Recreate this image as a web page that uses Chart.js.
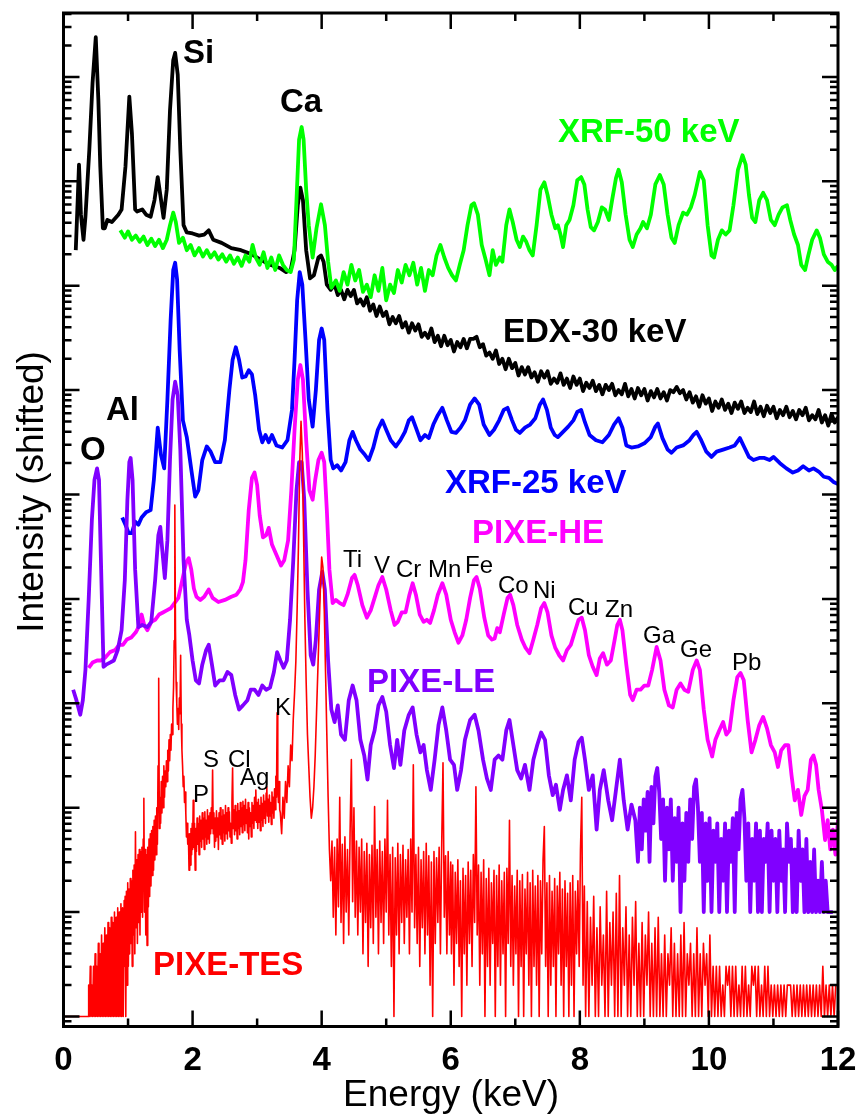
<!DOCTYPE html>
<html>
<head>
<meta charset="utf-8">
<title>Spectra comparison</title>
<script src="https://cdn.jsdelivr.net/npm/chart.js@4.4.1/dist/chart.umd.min.js"></script>
<style>
  html, body { margin: 0; padding: 0; background: #fff; }
  #wrap { width: 861px; height: 1117px; }
</style>
</head>
<body>
<div id="wrap"><canvas id="spectra" width="861" height="1117"></canvas></div>
<script>
// each point is [energy keV, log10 intensity (shifted)]
const edx30 = [
  [0.19,7.34],[0.22,7.82],[0.24,8.16],[0.27,7.68],[0.31,7.44],[0.34,7.66],[0.40,8.30],[0.45,8.94],[0.50,9.38],
  [0.54,8.78],[0.57,8.14],[0.61,7.55],[0.64,7.55],[0.68,7.63],[0.75,7.61],[0.85,7.68],[0.90,7.73],[0.96,8.14],
  [1.02,8.81],[1.06,8.46],[1.11,7.73],[1.14,7.71],[1.22,7.73],[1.28,7.68],[1.35,7.66],[1.41,7.82],[1.46,8.04],
  [1.50,7.87],[1.55,7.65],[1.60,7.92],[1.65,8.68],[1.70,9.16],[1.73,9.23],[1.77,9.02],[1.81,8.30],[1.86,7.58],
  [1.91,7.51],[2.00,7.50],[2.10,7.48],[2.18,7.49],[2.25,7.53],[2.32,7.44],[2.45,7.41],[2.60,7.36],[2.75,7.34],
  [2.92,7.30],[3.05,7.25],[3.20,7.20],[3.35,7.17],[3.45,7.13],[3.52,7.15],[3.58,7.34],[3.63,7.77],[3.67,7.94],
  [3.71,7.82],[3.76,7.34],[3.82,7.07],[3.88,7.10],[3.95,7.27],[3.99,7.29],[4.03,7.23],[4.08,7.01],[4.14,6.96],
  [4.20,7.01],[4.25,6.91],[4.30,6.96],[4.35,6.87],[4.40,6.96],[4.45,6.90],[4.50,6.96],[4.55,6.83],[4.60,6.87],
  [4.65,6.81],[4.70,6.89],[4.75,6.76],[4.80,6.82],[4.85,6.71],[4.90,6.80],[4.95,6.71],[5.00,6.75],[5.05,6.63],
  [5.10,6.70],[5.15,6.64],[5.20,6.71],[5.25,6.60],[5.30,6.65],[5.35,6.55],[5.40,6.64],[5.45,6.57],[5.50,6.63],
  [5.55,6.51],[5.60,6.55],[5.65,6.50],[5.70,6.59],[5.75,6.46],[5.80,6.52],[5.85,6.42],[5.90,6.52],[5.95,6.43],
  [6.00,6.48],[6.05,6.37],[6.10,6.46],[6.15,6.41],[6.20,6.49],[6.25,6.40],[6.30,6.49],[6.35,6.49],[6.40,6.51],
  [6.45,6.41],[6.50,6.44],[6.55,6.33],[6.60,6.36],[6.65,6.30],[6.70,6.38],[6.75,6.25],[6.80,6.30],[6.85,6.20],
  [6.90,6.30],[6.95,6.21],[7.00,6.26],[7.05,6.14],[7.10,6.22],[7.15,6.15],[7.20,6.22],[7.25,6.12],[7.30,6.17],
  [7.35,6.08],[7.40,6.18],[7.45,6.12],[7.50,6.18],[7.55,6.06],[7.60,6.11],[7.65,6.07],[7.70,6.16],[7.75,6.05],
  [7.80,6.11],[7.85,6.02],[7.90,6.13],[7.95,6.05],[8.00,6.11],[8.05,5.99],[8.10,6.07],[8.15,6.02],[8.20,6.09],
  [8.25,5.99],[8.30,6.05],[8.35,5.96],[8.40,6.05],[8.45,6.00],[8.50,6.06],[8.55,5.95],[8.60,6.00],[8.65,5.96],
  [8.70,6.06],[8.75,5.94],[8.80,6.01],[8.85,5.92],[8.90,6.02],[8.95,5.95],[9.00,6.01],[9.05,5.90],[9.10,5.99],
  [9.15,5.93],[9.20,6.01],[9.25,5.92],[9.30,5.98],[9.35,5.90],[9.40,6.00],[9.45,5.98],[9.50,6.03],[9.55,5.97],
  [9.60,6.00],[9.65,5.91],[9.70,5.98],[9.75,5.88],[9.80,5.94],[9.85,5.84],[9.90,5.95],[9.95,5.87],[10.00,5.92],
  [10.05,5.80],[10.10,5.89],[10.15,5.83],[10.20,5.91],[10.25,5.81],[10.30,5.87],[10.35,5.78],[10.40,5.88],
  [10.45,5.82],[10.50,5.89],[10.55,5.78],[10.60,5.83],[10.65,5.79],[10.70,5.89],[10.75,5.77],[10.80,5.84],
  [10.85,5.75],[10.90,5.85],[10.95,5.78],[11.00,5.84],[11.05,5.73],[11.10,5.81],[11.15,5.76],[11.20,5.84],
  [11.25,5.74],[11.30,5.80],[11.35,5.72],[11.40,5.81],[11.45,5.76],[11.50,5.83],[11.55,5.71],[11.60,5.76],
  [11.65,5.72],[11.70,5.81],[11.75,5.69],[11.80,5.76],[11.85,5.66],[11.90,5.77],[11.95,5.69],[12.00,5.74]
];

const xrf50 = [
  [0.88,7.53],[0.95,7.46],[1.00,7.52],[1.06,7.44],[1.12,7.48],[1.18,7.42],[1.24,7.47],[1.30,7.39],[1.36,7.45],
  [1.42,7.38],[1.48,7.44],[1.54,7.36],[1.60,7.44],[1.65,7.58],[1.70,7.70],[1.74,7.61],[1.79,7.41],[1.85,7.46],
  [1.91,7.34],[1.97,7.39],[2.03,7.29],[2.10,7.36],[2.16,7.28],[2.22,7.34],[2.28,7.27],[2.34,7.32],[2.40,7.25],
  [2.46,7.30],[2.52,7.23],[2.58,7.29],[2.64,7.21],[2.70,7.27],[2.76,7.19],[2.82,7.29],[2.88,7.23],[2.93,7.39],
  [2.98,7.27],[3.04,7.20],[3.10,7.32],[3.16,7.17],[3.22,7.27],[3.28,7.15],[3.34,7.29],[3.40,7.20],[3.46,7.15],
  [3.52,7.13],[3.57,7.25],[3.61,7.82],[3.65,8.40],[3.69,8.52],[3.72,8.40],[3.76,7.92],[3.80,7.58],[3.86,7.27],
  [3.92,7.55],[3.99,7.78],[4.05,7.58],[4.10,7.23],[4.15,6.98],[4.22,7.05],[4.28,6.95],[4.34,7.13],[4.40,7.01],
  [4.46,7.20],[4.52,7.05],[4.58,7.15],[4.64,6.94],[4.70,7.01],[4.76,6.89],[4.82,7.10],[4.88,6.95],[4.94,7.17],
  [5.00,6.86],[5.06,7.01],[5.12,6.93],[5.18,7.15],[5.24,7.03],[5.30,7.20],[5.36,7.10],[5.42,7.22],[5.48,7.01],
  [5.54,7.17],[5.60,6.95],[5.66,7.15],[5.72,7.10],[5.78,7.29],[5.84,7.39],[5.90,7.27],[5.96,7.17],[6.02,7.10],
  [6.08,7.05],[6.14,7.20],[6.20,7.34],[6.26,7.58],[6.32,7.77],[6.36,7.79],[6.42,7.68],[6.48,7.39],[6.54,7.25],
  [6.60,7.10],[6.65,7.34],[6.70,7.20],[6.76,7.27],[6.80,7.23],[6.86,7.58],[6.91,7.73],[6.96,7.61],[7.02,7.44],
  [7.07,7.37],[7.12,7.47],[7.17,7.42],[7.22,7.34],[7.27,7.29],[7.33,7.58],[7.39,7.92],[7.45,7.99],[7.50,7.87],
  [7.56,7.68],[7.62,7.55],[7.66,7.58],[7.70,7.49],[7.74,7.37],[7.79,7.58],[7.84,7.63],[7.90,7.77],[7.96,8.01],
  [8.02,8.04],[8.07,7.97],[8.12,7.73],[8.17,7.56],[8.22,7.53],[8.28,7.61],[8.34,7.75],[8.39,7.73],[8.45,7.63],
  [8.50,7.82],[8.56,8.03],[8.60,8.11],[8.65,7.99],[8.71,7.68],[8.77,7.44],[8.82,7.37],[8.88,7.49],[8.94,7.55],
  [8.98,7.61],[9.04,7.55],[9.10,7.68],[9.17,7.97],[9.24,8.06],[9.30,7.97],[9.36,7.68],[9.42,7.46],[9.47,7.41],
  [9.53,7.58],[9.60,7.70],[9.66,7.68],[9.72,7.75],[9.78,7.87],[9.86,8.09],[9.92,8.01],[9.98,7.58],[10.04,7.29],
  [10.08,7.27],[10.14,7.44],[10.20,7.53],[10.26,7.49],[10.32,7.53],[10.38,7.77],[10.45,8.11],[10.52,8.25],
  [10.57,8.16],[10.62,7.87],[10.67,7.65],[10.72,7.61],[10.78,7.82],[10.84,7.89],[10.90,7.82],[10.96,7.63],
  [11.02,7.58],[11.08,7.68],[11.14,7.75],[11.21,7.77],[11.26,7.63],[11.32,7.49],[11.38,7.39],[11.43,7.20],
  [11.49,7.15],[11.54,7.29],[11.60,7.44],[11.67,7.53],[11.72,7.46],[11.78,7.30],[11.84,7.23],[11.90,7.20],
  [11.95,7.15],[12.00,7.19]
];

const xrf25 = [
  [0.91,4.78],[0.96,4.71],[1.01,4.63],[1.06,4.63],[1.11,4.74],[1.16,4.71],[1.21,4.78],[1.28,4.83],[1.35,4.85],
  [1.40,5.14],[1.46,5.64],[1.51,5.38],[1.56,5.25],[1.61,5.91],[1.66,6.67],[1.70,7.15],[1.73,7.22],[1.76,7.06],
  [1.80,6.38],[1.85,5.71],[1.91,5.55],[1.98,5.24],[2.04,4.98],[2.09,5.04],[2.15,5.33],[2.22,5.46],[2.28,5.41],
  [2.35,5.31],[2.43,5.31],[2.50,5.52],[2.57,6.00],[2.62,6.29],[2.67,6.41],[2.72,6.29],[2.77,6.12],[2.82,6.13],
  [2.87,6.19],[2.92,6.15],[2.97,5.95],[3.03,5.62],[3.08,5.50],[3.13,5.57],[3.18,5.50],[3.23,5.57],[3.30,5.47],
  [3.39,5.45],[3.47,5.52],[3.54,5.81],[3.58,6.29],[3.62,6.86],[3.66,7.13],[3.70,7.01],[3.75,6.48],[3.80,5.91],
  [3.86,5.65],[3.91,6.00],[3.96,6.48],[4.00,6.59],[4.04,6.48],[4.09,5.81],[4.14,5.33],[4.18,5.25],[4.24,5.28],
  [4.30,5.23],[4.37,5.31],[4.43,5.52],[4.48,5.60],[4.53,5.52],[4.60,5.43],[4.67,5.38],[4.73,5.33],[4.80,5.45],
  [4.87,5.62],[4.94,5.71],[5.00,5.62],[5.07,5.52],[5.15,5.46],[5.22,5.52],[5.29,5.60],[5.35,5.71],[5.40,5.74],
  [5.46,5.64],[5.53,5.52],[5.60,5.57],[5.66,5.54],[5.73,5.67],[5.80,5.76],[5.87,5.83],[5.94,5.71],[6.01,5.60],
  [6.08,5.59],[6.15,5.64],[6.22,5.71],[6.30,5.86],[6.37,5.92],[6.44,5.86],[6.51,5.67],[6.60,5.57],[6.67,5.62],
  [6.75,5.71],[6.82,5.81],[6.88,5.83],[6.95,5.71],[7.01,5.62],[7.07,5.59],[7.15,5.64],[7.23,5.67],[7.31,5.73],
  [7.38,5.86],[7.43,5.91],[7.49,5.81],[7.55,5.64],[7.61,5.57],[7.66,5.55],[7.74,5.60],[7.82,5.65],[7.90,5.71],
  [7.96,5.79],[8.02,5.81],[8.08,5.69],[8.15,5.57],[8.25,5.52],[8.35,5.50],[8.45,5.57],[8.53,5.67],[8.60,5.73],
  [8.66,5.64],[8.72,5.47],[8.80,5.45],[8.90,5.46],[9.00,5.49],[9.10,5.55],[9.17,5.65],[9.21,5.68],[9.28,5.54],
  [9.36,5.43],[9.42,5.40],[9.50,5.45],[9.60,5.47],[9.70,5.52],[9.76,5.57],[9.81,5.60],[9.88,5.52],[9.96,5.41],
  [10.04,5.36],[10.12,5.41],[10.22,5.43],[10.32,5.45],[10.40,5.47],[10.48,5.54],[10.55,5.45],[10.62,5.36],
  [10.69,5.33],[10.78,5.35],[10.86,5.35],[10.94,5.33],[11.00,5.36],[11.10,5.30],[11.20,5.25],[11.30,5.21],
  [11.38,5.23],[11.46,5.27],[11.55,5.23],[11.62,5.25],[11.70,5.22],[11.78,5.17],[11.86,5.16],[11.93,5.12],
  [12.00,5.10]
];

const pixeHE = [
  [0.39,3.34],[0.45,3.39],[0.52,3.41],[0.58,3.41],[0.65,3.44],[0.72,3.49],[0.80,3.51],[0.86,3.56],[0.92,3.56],
  [0.98,3.61],[1.05,3.63],[1.12,3.68],[1.18,3.75],[1.21,3.85],[1.25,3.75],[1.30,3.70],[1.36,3.78],[1.42,3.80],
  [1.48,3.85],[1.54,3.87],[1.60,3.89],[1.66,3.91],[1.72,3.96],[1.78,4.01],[1.84,4.18],[1.90,4.35],[1.94,4.39],
  [1.98,4.28],[2.02,4.10],[2.06,4.02],[2.12,3.99],[2.18,4.02],[2.25,4.09],[2.31,4.01],[2.40,3.97],[2.50,3.99],
  [2.60,4.02],[2.68,4.04],[2.74,4.09],[2.78,4.16],[2.82,4.37],[2.87,4.85],[2.92,5.16],[2.96,5.21],[3.00,5.09],
  [3.04,4.80],[3.09,4.59],[3.14,4.61],[3.18,4.68],[3.23,4.52],[3.30,4.42],[3.37,4.32],[3.42,4.37],[3.48,4.56],
  [3.53,5.04],[3.58,5.62],[3.63,6.10],[3.67,6.24],[3.71,6.10],[3.76,5.52],[3.81,5.04],[3.86,4.95],[3.90,5.14],
  [3.95,5.33],[4.00,5.40],[4.04,5.31],[4.08,4.85],[4.12,4.28],[4.17,3.96],[4.22,3.99],[4.28,3.96],[4.34,3.94],
  [4.40,4.04],[4.47,4.20],[4.51,4.23],[4.56,4.13],[4.63,3.94],[4.70,3.82],[4.76,3.89],[4.82,4.01],[4.88,4.13],
  [4.94,4.21],[5.00,4.09],[5.07,3.89],[5.13,3.75],[5.18,3.78],[5.24,3.87],[5.30,3.87],[5.36,4.04],[5.41,4.15],
  [5.46,4.04],[5.52,3.85],[5.58,3.78],[5.63,3.80],[5.68,3.77],[5.74,3.89],[5.80,4.04],[5.87,4.15],[5.93,4.04],
  [6.00,3.80],[6.06,3.68],[6.12,3.58],[6.18,3.65],[6.24,3.80],[6.30,4.01],[6.36,4.18],[6.40,4.21],[6.45,4.10],
  [6.52,3.82],[6.58,3.65],[6.64,3.61],[6.68,3.62],[6.72,3.72],[6.76,3.68],[6.82,3.85],[6.88,4.01],[6.92,4.04],
  [6.97,3.94],[7.03,3.75],[7.10,3.61],[7.16,3.53],[7.22,3.48],[7.28,3.61],[7.34,3.75],[7.40,3.91],[7.45,3.96],
  [7.50,3.87],[7.56,3.65],[7.62,3.53],[7.68,3.46],[7.74,3.41],[7.80,3.51],[7.86,3.56],[7.92,3.68],[7.98,3.80],
  [8.03,3.82],[8.08,3.70],[8.14,3.46],[8.20,3.35],[8.26,3.27],[8.31,3.43],[8.36,3.48],[8.42,3.37],[8.48,3.41],
  [8.54,3.61],[8.58,3.75],[8.62,3.80],[8.66,3.70],[8.72,3.37],[8.78,3.08],[8.82,3.03],[8.88,3.13],[8.94,3.13],
  [9.00,3.17],[9.06,3.17],[9.12,3.32],[9.19,3.54],[9.25,3.41],[9.31,3.13],[9.38,2.98],[9.44,2.96],[9.50,3.13],
  [9.56,3.19],[9.62,3.13],[9.68,3.11],[9.75,3.32],[9.81,3.41],[9.86,3.32],[9.92,2.94],[9.98,2.65],[10.05,2.49],
  [10.10,2.65],[10.16,2.74],[10.22,2.82],[10.27,2.70],[10.32,2.74],[10.38,3.03],[10.44,3.25],[10.49,3.29],
  [10.54,3.22],[10.60,2.84],[10.66,2.53],[10.72,2.65],[10.78,2.79],[10.84,2.87],[10.90,2.76],[10.96,2.60],
  [11.02,2.53],[11.07,2.39],[11.12,2.55],[11.18,2.60],[11.23,2.60],[11.28,2.31],[11.33,2.07],[11.38,2.17],
  [11.43,1.93],[11.48,2.11],[11.53,2.17],[11.58,2.46],[11.62,2.50],[11.66,2.41],[11.70,2.17],[11.75,1.98],
  [11.80,1.69],[11.84,1.88],[11.88,1.60],[11.92,1.79],[11.96,1.55],[12.00,1.88]
];

const pixeLE = [
  [0.15,3.13],[0.20,3.03],[0.26,2.89],[0.30,3.03],[0.34,3.32],[0.39,3.99],[0.44,4.76],[0.48,5.14],[0.52,5.25],
  [0.55,5.14],[0.58,4.37],[0.62,3.35],[0.66,3.37],[0.72,3.39],[0.78,3.41],[0.84,3.51],[0.90,3.70],[0.95,4.18],
  [0.99,4.95],[1.02,5.31],[1.04,5.35],[1.07,5.14],[1.11,4.28],[1.16,3.73],[1.22,3.75],[1.30,3.73],[1.36,3.78],
  [1.42,4.18],[1.47,4.61],[1.50,4.69],[1.53,4.47],[1.57,4.20],[1.61,4.56],[1.65,5.33],[1.69,5.91],[1.73,6.08],
  [1.77,5.95],[1.81,5.43],[1.86,4.37],[1.91,3.80],[1.95,3.65],[2.00,3.41],[2.05,3.22],[2.10,3.19],[2.15,3.37],
  [2.21,3.51],[2.25,3.56],[2.30,3.37],[2.35,3.17],[2.42,3.22],[2.48,3.22],[2.54,3.30],[2.60,3.27],[2.66,3.08],
  [2.72,2.94],[2.78,2.98],[2.85,3.03],[2.90,3.13],[2.96,3.13],[3.02,3.08],[3.08,3.17],[3.14,3.13],[3.20,3.15],
  [3.26,3.30],[3.31,3.49],[3.36,3.41],[3.41,3.34],[3.46,3.41],[3.51,3.80],[3.56,4.37],[3.61,5.04],[3.65,5.31],
  [3.69,5.31],[3.73,4.95],[3.78,4.09],[3.83,3.46],[3.87,3.37],[3.91,3.61],[3.96,4.09],[4.01,4.26],[4.05,4.09],
  [4.10,3.41],[4.15,2.94],[4.20,2.82],[4.25,2.98],[4.30,2.70],[4.36,2.65],[4.42,3.03],[4.48,3.17],[4.54,3.03],
  [4.60,2.65],[4.66,2.50],[4.71,2.27],[4.76,2.60],[4.82,2.74],[4.88,2.98],[4.94,3.06],[5.00,2.92],[5.06,2.60],
  [5.12,2.38],[5.17,2.65],[5.22,2.41],[5.28,2.74],[5.35,2.89],[5.41,2.96],[5.47,2.70],[5.53,2.53],[5.58,2.60],
  [5.63,2.36],[5.69,2.17],[5.75,2.46],[5.81,2.79],[5.87,2.96],[5.93,2.74],[5.99,2.46],[6.05,2.41],[6.10,2.17],
  [6.16,2.36],[6.22,2.65],[6.30,2.84],[6.37,2.89],[6.43,2.74],[6.50,2.46],[6.56,2.28],[6.62,2.17],[6.68,2.46],
  [6.74,2.50],[6.80,2.46],[6.86,2.74],[6.91,2.84],[6.97,2.60],[7.03,2.36],[7.09,2.28],[7.15,2.41],[7.22,2.17],
  [7.28,2.46],[7.34,2.60],[7.40,2.72],[7.46,2.65],[7.52,2.31],[7.58,2.12],[7.63,2.22],[7.69,1.98],[7.74,2.17],
  [7.80,2.31],[7.86,2.07],[7.92,2.46],[7.98,2.63],[8.03,2.67],[8.08,2.46],[8.14,2.17],[8.20,2.31],[8.26,1.79],
  [8.31,2.17],[8.37,2.36],[8.44,2.07],[8.50,1.88],[8.56,2.17],[8.62,2.46],[8.68,2.07],[8.74,1.79],[8.80,2.03],
  [8.86,1.88],[8.90,1.48],[8.93,2.00],[8.96,1.60],[8.99,2.08],[9.02,1.78],[9.05,2.15],[9.08,1.48],[9.11,2.20],
  [9.14,1.85],[9.17,2.30],[9.20,2.38],[9.23,2.15],[9.26,1.70],[9.29,2.08],[9.32,1.30],[9.35,2.00],[9.38,1.60],
  [9.41,2.08],[9.44,1.30],[9.47,1.90],[9.50,1.48],[9.53,2.00],[9.56,1.00],[9.59,1.85],[9.62,1.30],[9.65,1.95],
  [9.68,1.48],[9.71,2.08],[9.74,1.70],[9.77,2.20],[9.80,2.27],[9.83,2.00],[9.86,1.48],[9.89,1.95],[9.92,1.00],
  [9.95,1.85],[9.98,1.30],[10.01,1.90],[10.04,1.00],[10.07,1.78],[10.10,1.48],[10.13,1.85],[10.16,1.00],
  [10.19,1.70],[10.22,1.30],[10.25,1.85],[10.28,1.00],[10.31,1.78],[10.34,1.48],[10.37,1.90],[10.40,1.00],
  [10.43,1.95],[10.46,1.60],[10.49,2.08],[10.52,2.17],[10.55,1.90],[10.58,1.30],[10.61,1.85],[10.64,1.00],
  [10.67,1.70],[10.70,1.30],[10.73,1.85],[10.76,1.00],[10.79,1.78],[10.82,1.00],[10.85,1.70],[10.88,1.48],
  [10.91,1.85],[10.94,1.00],[10.97,1.78],[11.00,1.30],[11.03,1.70],[11.06,1.00],[11.09,1.78],[11.12,1.30],
  [11.15,1.60],[11.18,1.00],[11.21,1.85],[11.24,1.48],[11.27,1.70],[11.30,1.00],[11.33,1.60],[11.36,1.00],
  [11.39,1.78],[11.42,1.30],[11.45,1.60],[11.48,1.00],[11.51,1.70],[11.54,1.00],[11.57,1.48],[11.60,1.00],
  [11.63,1.60],[11.66,1.00],[11.69,1.30],[11.72,1.00],[11.75,1.48],[11.78,1.00],[11.81,1.30],[11.84,1.00],
  [11.87,1.00],[11.92,1.00]
];

const pixeTES = [
  [0.00,0],[0.38,0],
  [0.39,0.30],[0.40,0],[0.415,0.48],[0.425,0],[0.44,0.30],[0.45,0],[0.465,0.48],[0.475,0],[0.49,0.60],[0.50,0],
  [0.515,0.48],[0.525,0],[0.54,0.70],[0.55,0],[0.565,0.60],[0.575,0],[0.59,0.78],[0.60,0],[0.615,0.70],[0.625,0],
  [0.64,0.85],[0.65,0],[0.665,0.78],[0.675,0],[0.69,0.90],[0.70,0],[0.715,0.85],[0.725,0],[0.74,0.95],[0.75,0],
  [0.765,0.90],[0.775,0],[0.79,1.00],[0.80,0],[0.815,0.95],[0.825,0],[0.84,1.04],[0.85,0],[0.865,1.00],[0.875,0],
  [0.89,1.08],[0.90,0],[0.915,1.04],[0.925,0],[0.94,1.11],[0.95,0.48],
  [0.955,1.15],[0.965,0.00],[0.975,1.20],[0.985,0.30],[0.995,1.28],[1.005,0.48],[1.015,1.22],[1.025,0.60],
  [1.035,1.32],[1.045,0.70],[1.055,1.30],[1.065,0.48],[1.075,1.40],[1.085,0.78],[1.095,1.45],[1.105,0.60],
  [1.115,1.77],[1.125,0.85],[1.135,1.50],[1.145,0.70],[1.155,1.55],[1.165,0.90],[1.175,1.60],[1.185,0.78],
  [1.195,1.58],[1.205,1.00],[1.215,1.62],[1.225,0.95],[1.235,1.70],[1.245,2.09],[1.255,1.00],[1.265,1.60],
  [1.275,0.78],[1.285,1.55],[1.295,0.68],[1.305,1.62],[1.315,1.05],[1.325,1.70],[1.335,1.15],[1.345,1.75],
  [1.355,1.25],[1.365,1.78],[1.375,1.35],[1.385,1.82],[1.395,1.40],[1.405,1.88],[1.415,1.50],[1.425,1.92],
  [1.435,1.55],[1.445,2.00],[1.455,1.65],[1.465,2.40],[1.475,3.24],[1.485,1.80],[1.495,2.10],[1.505,1.85],
  [1.515,2.25],[1.525,1.95],[1.535,2.30],[1.545,2.00],[1.555,2.40],[1.565,2.10],[1.575,2.35],[1.585,2.20],
  [1.595,2.45],[1.605,2.25],[1.615,2.55],[1.625,2.35],[1.635,2.65],[1.645,2.45],[1.655,2.70],[1.665,2.55],
  [1.675,2.80],[1.685,2.70],[1.695,2.95],[1.705,3.15],[1.715,3.60],[1.725,4.90],[1.735,3.70],[1.745,3.20],
  [1.755,3.00],[1.765,2.80],[1.775,2.95],[1.785,2.75],[1.795,3.05],[1.805,2.90],[1.815,3.46],[1.825,2.80],
  [1.835,2.55],[1.845,2.40],[1.855,2.20],[1.865,2.30],[1.875,2.05],[1.885,2.15],[1.895,1.95],[1.905,1.72],
  [1.915,1.85],[1.925,1.65],[1.935,1.75],[1.945,1.40],[1.955,1.75],[1.965,1.45],[1.975,1.80],[1.985,1.55],
  [1.995,1.85],
  [2.00,1.60],[2.01,2.07],[2.02,1.62],[2.03,1.85],[2.04,1.40],[2.05,1.80],[2.06,1.58],[2.07,1.90],[2.08,1.65],
  [2.09,1.85],[2.10,1.55],[2.11,1.92],[2.12,1.68],[2.13,1.88],[2.14,1.62],[2.15,1.95],[2.16,1.70],[2.17,1.90],
  [2.18,1.60],[2.19,1.96],[2.20,1.72],[2.21,1.88],[2.22,1.65],[2.23,1.98],[2.24,1.70],[2.25,1.92],[2.26,1.66],
  [2.27,1.95],[2.28,1.75],[2.29,2.00],[2.30,1.80],[2.31,2.36],[2.32,1.75],[2.33,1.95],[2.34,1.62],[2.35,1.90],
  [2.36,1.68],[2.37,1.97],[2.38,1.72],[2.39,1.90],[2.40,1.60],[2.41,1.95],[2.42,1.74],[2.43,2.00],[2.44,1.70],
  [2.45,1.92],[2.46,1.65],[2.47,1.98],[2.48,1.76],[2.49,1.93],[2.50,1.68],[2.51,2.02],[2.52,1.75],[2.53,1.95],
  [2.54,1.70],[2.55,2.00],[2.56,1.78],[2.57,1.96],[2.58,1.72],[2.59,1.85],[2.60,1.66],[2.61,2.05],[2.62,2.38],
  [2.63,1.80],[2.64,1.98],[2.65,1.74],[2.66,2.02],[2.67,1.78],[2.68,1.96],[2.69,1.70],[2.70,2.04],[2.71,1.80],
  [2.72,1.97],[2.73,1.74],[2.74,2.05],[2.75,1.82],[2.76,2.00],[2.77,1.76],[2.78,2.06],[2.79,1.84],[2.80,2.02],
  [2.81,1.78],[2.82,2.08],[2.83,1.85],[2.84,1.98],[2.85,1.76],[2.86,2.05],[2.87,1.70],[2.88,2.00],[2.89,1.82],
  [2.90,1.95],[2.91,1.72],[2.92,2.05],[2.93,1.85],[2.94,2.02],[2.95,1.80],[2.96,2.10],[2.97,1.88],[2.98,2.17],
  [2.99,1.86],[3.00,2.05],[3.01,1.80],[3.02,2.08],[3.03,1.86],[3.04,2.02],[3.05,1.78],[3.06,2.10],[3.07,1.88],
  [3.08,2.04],[3.09,1.82],[3.10,2.12],[3.11,1.90],[3.12,2.06],[3.13,1.85],[3.14,2.14],[3.15,2.20],[3.16,1.92],
  [3.17,2.08],[3.18,1.86],[3.19,2.12],[3.20,1.92],[3.21,2.05],[3.22,1.84],[3.23,2.15],[3.24,1.95],[3.25,2.10],
  [3.26,1.90],[3.27,2.18],[3.28,1.98],[3.29,2.30],[3.30,2.10],[3.31,2.91],[3.32,2.20],[3.33,2.05],[3.34,2.25],
  [3.35,1.98],
  [3.36,1.95],[3.38,1.75],[3.40,2.10],[3.42,1.90],[3.44,2.25],[3.46,2.05],[3.48,2.40],[3.50,2.20],[3.52,2.60],
  [3.54,2.45],[3.56,2.85],[3.58,3.10],[3.60,3.40],[3.62,3.90],[3.64,4.50],[3.66,5.30],[3.68,5.70],[3.70,5.40],
  [3.72,4.60],[3.74,3.80],[3.76,3.20],[3.78,2.70],[3.80,2.40],[3.82,2.10],[3.84,1.90],[3.86,2.00],[3.88,2.20],
  [3.90,2.50],[3.92,2.90],[3.94,3.30],[3.96,3.70],[3.98,4.10],[4.00,4.40],[4.02,4.30],[4.04,3.90],[4.06,3.30],
  [4.08,2.70],[4.10,2.10],[4.12,1.60],
  [4.14,1.30],[4.16,1.68],[4.18,0.95],[4.20,1.62],[4.22,0.78],[4.24,1.70],[4.26,1.05],[4.28,2.10],[4.30,0.90],
  [4.32,1.65],[4.34,0.70],[4.36,1.72],[4.38,1.00],[4.40,1.60],[4.42,0.78],[4.44,1.75],[4.46,2.46],[4.48,1.10],
  [4.50,2.00],[4.52,0.95],[4.54,1.68],[4.56,0.78],[4.58,1.62],[4.60,1.00],[4.62,1.70],[4.64,0.60],[4.66,1.58],
  [4.68,0.90],[4.70,1.66],[4.72,0.48],[4.74,1.55],[4.76,0.85],[4.78,1.64],[4.80,0.70],[4.82,2.01],[4.84,0.95],
  [4.86,1.60],[4.88,0.60],[4.90,1.68],[4.92,0.90],[4.94,1.58],[4.96,0.70],[4.98,1.70],[5.00,1.00],[5.02,2.07],
  [5.04,0.78],[5.06,1.55],[5.08,0.48],[5.10,1.62],[5.12,0.00],[5.14,1.52],[5.16,0.78],[5.18,1.66],[5.20,0.60],
  [5.22,1.55],[5.24,0.90],[5.26,1.64],[5.28,0.70],[5.30,1.50],[5.32,0.95],[5.34,1.60],[5.36,0.60],[5.38,1.70],
  [5.40,1.00],[5.42,2.41],[5.44,0.85],[5.46,1.55],[5.48,0.70],[5.50,1.62],[5.52,0.48],[5.54,1.50],[5.56,0.85],
  [5.58,1.58],[5.60,0.60],[5.62,1.66],[5.64,0.78],[5.66,1.54],[5.68,0.30],[5.70,1.48],[5.72,0.00],[5.74,1.58],
  [5.76,0.70],[5.78,1.52],[5.80,0.90],[5.82,1.62],[5.84,0.60],[5.86,1.66],[5.88,2.43],[5.90,0.95],[5.92,1.54],
  [5.94,0.60],[5.96,1.58],[5.98,0.78],[6.00,1.48],
  [6.01,0.60],[6.03,1.45],[6.05,0.30],[6.07,1.38],[6.09,0.70],[6.11,1.50],[6.13,0.48],[6.15,1.30],[6.17,0.00],
  [6.19,1.42],[6.21,0.60],[6.23,1.35],[6.25,0.30],[6.27,1.48],[6.29,0.70],[6.31,1.40],[6.33,0.48],[6.35,1.55],
  [6.37,0.90],[6.39,2.20],[6.41,0.78],[6.43,1.45],[6.45,0.30],[6.47,1.38],[6.49,0.60],[6.51,1.50],[6.53,0.00],
  [6.55,1.32],[6.57,0.48],[6.59,1.42],[6.61,0.30],[6.63,1.28],[6.65,0.70],[6.67,1.40],[6.69,0.00],[6.71,1.35],
  [6.73,0.48],[6.75,1.45],[6.77,0.30],[6.79,1.30],[6.81,0.60],[6.83,1.38],[6.85,0.00],[6.87,1.42],[6.89,0.70],
  [6.91,1.88],[6.93,0.48],[6.95,1.35],[6.97,0.30],[6.99,1.25],[7.01,0.60],[7.03,1.40],[7.05,0.00],[7.07,1.30],
  [7.09,0.48],[7.11,1.36],[7.13,0.00],[7.15,1.22],[7.17,0.60],[7.19,1.38],[7.21,0.30],[7.23,1.28],[7.25,0.00],
  [7.27,1.40],[7.29,0.48],[7.31,1.25],[7.33,0.30],[7.35,1.35],[7.37,0.00],[7.39,1.30],[7.41,0.60],[7.43,1.50],
  [7.45,1.82],[7.47,0.48],[7.49,1.28],[7.51,0.00],[7.53,1.35],[7.55,0.30],[7.57,1.20],[7.59,0.48],[7.61,1.32],
  [7.63,0.00],[7.65,1.25],[7.67,0.60],[7.69,1.38],[7.71,0.30],[7.73,1.22],[7.75,0.00],[7.77,1.30],[7.79,0.48],
  [7.81,1.18],[7.83,0.00],[7.85,1.28],[7.87,0.30],[7.89,1.35],[7.91,0.00],[7.93,1.20],[7.95,0.60],[7.97,1.30],
  [7.99,0.48],[8.01,1.60],[8.03,2.10],[8.05,0.30],[8.07,1.25],[8.09,0.00],
  [8.115,1.10],[8.14,0.00],[8.165,0.95],[8.19,0.30],[8.215,1.15],[8.24,0.00],[8.265,0.85],[8.29,0.00],
  [8.315,1.05],[8.34,0.30],[8.365,0.78],[8.39,0.00],[8.415,1.20],[8.44,0.00],[8.465,0.90],[8.49,0.30],
  [8.515,1.00],[8.54,0.00],[8.565,1.18],[8.59,0.00],[8.615,1.35],[8.64,0.00],[8.665,0.85],[8.69,0.30],
  [8.715,1.05],[8.74,0.00],[8.765,0.78],[8.79,0.00],[8.815,0.95],[8.84,0.30],[8.865,1.10],[8.89,0.00],
  [8.915,0.70],[8.94,0.00],[8.965,0.90],[8.99,0.00],[9.015,0.78],[9.04,0.30],[9.065,1.00],[9.09,0.00],
  [9.115,0.70],[9.14,0.00],[9.165,0.85],[9.19,0.00],
  [9.215,0.95],[9.24,0.00],[9.265,0.60],[9.29,0.00],[9.315,0.78],[9.34,0.00],[9.365,0.60],[9.39,0.30],
  [9.415,0.85],[9.44,0.00],[9.465,0.70],[9.49,0.00],[9.515,0.60],[9.54,0.00],[9.565,0.78],[9.59,0.00],
  [9.615,0.90],[9.64,0.00],[9.665,0.60],[9.69,0.30],[9.715,0.70],[9.74,0.00],[9.765,0.60],[9.79,0.00],
  [9.815,0.85],[9.84,0.00],[9.865,0.60],[9.89,0.00],[9.915,0.70],[9.94,0.30],[9.965,0.60],[9.99,0.00],
  [10.015,0.78],[10.04,0.00],
  [10.065,0.48],[10.09,0.00],[10.115,0.48],[10.14,0.00],[10.165,0.48],[10.19,0.00],[10.215,0.30],[10.24,0.00],
  [10.265,0.48],[10.29,0.30],[10.315,0.48],[10.34,0.00],[10.365,0.48],[10.39,0.00],[10.415,0.48],[10.44,0.00],
  [10.465,0.30],[10.49,0.00],[10.515,0.48],[10.54,0.00],[10.565,0.48],[10.59,0.00],[10.615,0.30],[10.64,0.00],
  [10.665,0.48],[10.69,0.30],[10.715,0.48],[10.74,0.00],[10.765,0.48],[10.79,0.00],[10.815,0.30],[10.84,0.00],
  [10.865,0.48],[10.89,0.00],[10.915,0.48],[10.94,0.00],[10.965,0.30],[10.99,0.00],
  [11.015,0.30],[11.04,0.00],[11.065,0.30],[11.09,0.00],[11.115,0.30],[11.14,0.00],[11.165,0.30],[11.19,0.00],
  [11.215,0.30],[11.24,0.30],[11.265,0.30],[11.29,0.00],[11.315,0.30],[11.34,0.00],[11.365,0.30],[11.39,0.00],
  [11.415,0.30],[11.44,0.00],[11.465,0.30],[11.49,0.00],[11.515,0.30],[11.54,0.00],[11.565,0.30],[11.59,0.00],
  [11.615,0.30],[11.64,0.00],[11.665,0.30],[11.69,0.00],[11.715,0.30],[11.74,0.00],[11.765,0.48],[11.79,0.00],
  [11.815,0.30],[11.84,0.00],[11.865,0.30],[11.89,0.00],[11.915,0.30],[11.94,0.00],[11.965,0.30],[11.99,0.30]
];

const seriesNames = ["PIXE-TES", "PIXE-LE", "PIXE-HE", "XRF-25 keV", "XRF-50 keV", "EDX-30 keV"];
const seriesData = [pixeTES, pixeLE, pixeHE, xrf25, xrf50, edx30];
const seriesColors = ["#ff0000", "#8000ff", "#ff00ff", "#0000ff", "#00ff00", "#000000"];
const seriesWidths = [1.6, 3.8, 3.8, 3.8, 3.8, 3.8];

// text drawn on the plot: [text, left px, baseline px, color]
const bigLabels = [
  ["Si", 183, 63, "#000"], ["Ca", 280, 112, "#000"], ["O", 80, 460, "#000"], ["Al", 106, 420, "#000"],
  ["XRF-50 keV", 558, 142, "#00ff00"], ["EDX-30 keV", 503, 342, "#000"], ["XRF-25 keV", 445, 493, "#0000ff"],
  ["PIXE-HE", 472, 543, "#ff00ff"], ["PIXE-LE", 367, 692, "#8000ff"], ["PIXE-TES", 153, 975, "#ff0000"]
];
const elementLabels = [
  ["Ti", 343, 567], ["V", 374, 573], ["Cr", 396, 577], ["Mn", 428, 577], ["Fe", 465, 573], ["Co", 498, 593],
  ["Ni", 533, 598], ["Cu", 568, 615], ["Zn", 605, 617], ["Ga", 643, 643], ["Ge", 680, 657], ["Pb", 732, 670],
  ["K", 275, 715], ["P", 193, 802], ["S", 203, 767], ["Cl", 228, 767], ["Ag", 240, 785]
];

const FONT = "'Liberation Sans', Arial, Helvetica, sans-serif";

const framePlugin = {
  id: "frame",
  afterDatasetsDraw(chart) {
    const { ctx, chartArea: a, scales } = chart;
    const xs = scales.x, ys = scales.y;
    ctx.save();
    ctx.strokeStyle = "#000";
    ctx.lineWidth = 2.5;
    ctx.beginPath();
    xs.ticks.forEach(t => {
      const px = xs.getPixelForValue(t.value);
      const len = t.value % 2 === 0 ? 16 : 8;
      ctx.moveTo(px, a.bottom); ctx.lineTo(px, a.bottom - len);
      ctx.moveTo(px, a.top); ctx.lineTo(px, a.top + len);
    });
    ys.ticks.forEach(t => {
      const py = ys.getPixelForValue(t.value);
      if (py < a.top - 1 || py > a.bottom + 1) return;
      const len = t.major ? 16 : 8;
      ctx.moveTo(a.left, py); ctx.lineTo(a.left + len, py);
      ctx.moveTo(a.right, py); ctx.lineTo(a.right - len, py);
    });
    ctx.stroke();
    ctx.lineWidth = 3;
    ctx.strokeRect(a.left, a.top, a.right - a.left, a.bottom - a.top);

    // series names and peak labels
    ctx.textBaseline = "alphabetic";
    ctx.textAlign = "left";
    ctx.font = "bold 33px " + FONT;
    bigLabels.forEach(([txt, x, y, c]) => { ctx.fillStyle = c; ctx.fillText(txt, x, y); });
    ctx.font = "24px " + FONT;
    ctx.fillStyle = "#000";
    elementLabels.forEach(([txt, x, y]) => ctx.fillText(txt, x, y));

    // axis titles
    ctx.font = "37px " + FONT;
    ctx.textAlign = "center";
    ctx.fillText("Energy (keV)", 451, 1106);
    ctx.translate(43, 492);
    ctx.rotate(-Math.PI / 2);
    ctx.fillText("Intensity (shifted)", 0, 0);
    ctx.restore();
  }
};

const ctx = document.getElementById("spectra").getContext("2d");
new Chart(ctx, {
  type: "line",
  data: {
    datasets: seriesData.map((pts, i) => ({
      label: seriesNames[i],
      data: pts.map(([e, lg]) => ({ x: e, y: Math.pow(10, lg) })),
      borderColor: seriesColors[i],
      borderWidth: seriesWidths[i],
      borderJoinStyle: "round",
      pointRadius: 0,
      tension: 0,
      fill: false
    }))
  },
  options: {
    responsive: false,
    animation: false,
    devicePixelRatio: 1,
    layout: { padding: { left: 0, right: 23, top: 13, bottom: 0 } },
    plugins: { legend: { display: false }, tooltip: { enabled: false } },
    scales: {
      x: {
        type: "linear",
        min: 0,
        max: 12,
        grid: { display: false, drawTicks: false },
        border: { display: false },
        ticks: {
          stepSize: 1,
          autoSkip: false,
          maxRotation: 0,
          padding: 15,
          color: "#000",
          font: { family: FONT, size: 33, weight: "bold" },
          callback: v => (v % 2 === 0 ? String(v) : "")
        },
        // keep the plot box fixed; the end labels may hang over the sides
        afterFit: s => { s.height = 90.5; s.paddingLeft = 0; s.paddingRight = 0; }
      },
      y: {
        type: "logarithmic",
        min: Math.pow(10, -0.096),
        max: Math.pow(10, 9.612),
        grid: { display: false, drawTicks: false },
        border: { display: false },
        ticks: { display: false },
        afterBuildTicks: s => {
          const t = [];
          for (let e = -1; e <= 9; e++) {
            for (let k = 1; k <= 9; k++) {
              const v = k * Math.pow(10, e);
              if (v >= s.min && v <= s.max) t.push({ value: v, major: k === 1 });
            }
          }
          s.ticks = t;
        },
        afterFit: s => { s.width = 63.5; }
      }
    }
  },
  plugins: [framePlugin]
});
</script>
</body>
</html>
